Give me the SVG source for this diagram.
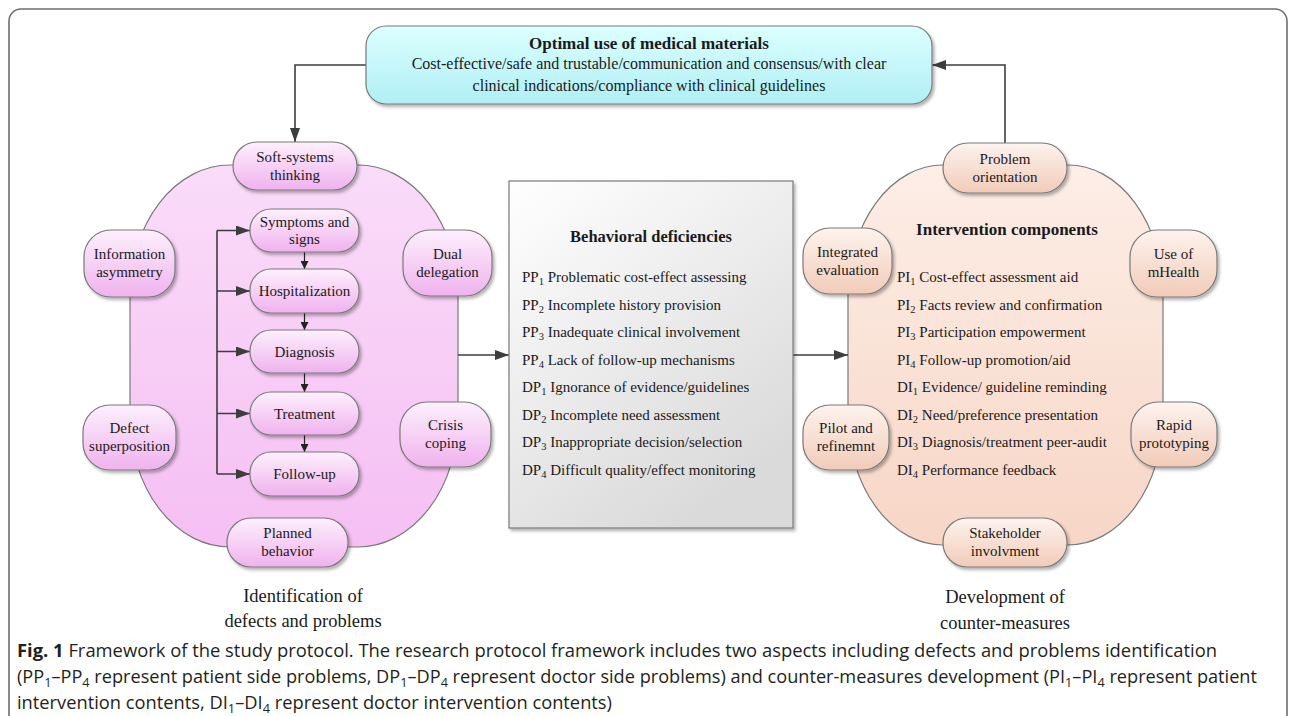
<svg xmlns="http://www.w3.org/2000/svg" width="1295" height="716" viewBox="0 0 1295 716">
<style>
.t{font-family:"Liberation Serif","Times New Roman",serif;fill:#1a1a1a}
.n{font-size:15px;text-anchor:middle}
.l{font-size:15px}
.h{font-weight:bold;text-anchor:middle}
.c{font-family:"Open Sans","Liberation Sans",sans-serif;font-size:18px;fill:#231f20}
.s{font-size:70%;baseline-shift:-28%}
.pk{fill:url(#gPk);stroke:#7a7a7a;stroke-width:1.2;filter:url(#sh)}
.pc{fill:url(#gPc);stroke:#7a7a7a;stroke-width:1.2;filter:url(#sh)}
.ln{fill:none;stroke:#3d3d3d;stroke-width:1.6}
.ls{fill:none;stroke:#222;stroke-width:1.2}
</style>
<defs>
<filter id="sh" x="-10%" y="-10%" width="130%" height="130%">
<feDropShadow dx="2" dy="2.5" stdDeviation="1.5" flood-color="#000" flood-opacity="0.3"/>
</filter>
<linearGradient id="gPk" x1="0" y1="0" x2="0" y2="1"><stop offset="0" stop-color="#fdf0fd"/><stop offset="1" stop-color="#f0b2ee"/></linearGradient>
<linearGradient id="gPc" x1="0" y1="0" x2="0" y2="1"><stop offset="0" stop-color="#fdf3ee"/><stop offset="1" stop-color="#f2cbb8"/></linearGradient>
<linearGradient id="gBlobPk" x1="0" y1="0" x2="0" y2="1"><stop offset="0" stop-color="#fadcf9"/><stop offset="1" stop-color="#f5bff3"/></linearGradient>
<linearGradient id="gBlobPc" x1="0" y1="0" x2="0" y2="1"><stop offset="0" stop-color="#fdeee7"/><stop offset="1" stop-color="#f7d6c6"/></linearGradient>
<linearGradient id="gCy" x1="0" y1="0" x2="0" y2="1"><stop offset="0" stop-color="#dcffff"/><stop offset="1" stop-color="#b0eff5"/></linearGradient>
<linearGradient id="gGr" x1="0" y1="0" x2="0.6" y2="1"><stop offset="0" stop-color="#ffffff"/><stop offset="1" stop-color="#dadada"/></linearGradient>
<marker id="aL" viewBox="0 0 14 10" refX="14" refY="5" markerWidth="14" markerHeight="10" markerUnits="userSpaceOnUse" orient="auto"><path d="M0,0 L14,5 L0,10 Z" fill="#3d3d3d"/></marker>
<marker id="aS" viewBox="0 0 8 8" refX="8" refY="4" markerWidth="8" markerHeight="8" markerUnits="userSpaceOnUse" orient="auto"><path d="M0,0 L8,4 L0,8 Z" fill="#222"/></marker>
</defs>

<rect x="9" y="9" width="1278" height="730" rx="12" fill="#fff" stroke="#6e6e6e" stroke-width="1.6"/>

<g id="blob-left"><rect x="130" y="165" width="328" height="382" rx="100" ry="130" fill="url(#gBlobPk)" stroke="#7a7a7a" stroke-width="1.2"/></g>
<g id="blob-right"><rect x="848" y="165" width="315" height="380" rx="95" ry="130" fill="url(#gBlobPc)" stroke="#7a7a7a" stroke-width="1.2"/></g>

<g id="connectors">
<path class="ln" d="M366,65 H295 V142" marker-end="url(#aL)"/>
<path class="ln" d="M1005,143 V65 H932" marker-end="url(#aL)"/>
<path class="ln" d="M458,355 H509" marker-end="url(#aL)"/>
<path class="ln" d="M793,355 H848" marker-end="url(#aL)"/>
<path class="ln" d="M217,230.5 V474"/>
<path class="ln" d="M217,230.5 H250" marker-end="url(#aL)"/>
<path class="ln" d="M217,291 H250" marker-end="url(#aL)"/>
<path class="ln" d="M217,351.5 H250" marker-end="url(#aL)"/>
<path class="ln" d="M217,413.5 H250" marker-end="url(#aL)"/>
<path class="ln" d="M217,474 H250" marker-end="url(#aL)"/>
<path class="ls" d="M304.5,252 V269" marker-end="url(#aS)"/>
<path class="ls" d="M304.5,313 V330" marker-end="url(#aS)"/>
<path class="ls" d="M304.5,373 V392" marker-end="url(#aS)"/>
<path class="ls" d="M304.5,435 V452" marker-end="url(#aS)"/>
</g>

<g id="goal">
<rect x="366" y="26" width="566" height="78" rx="20" fill="url(#gCy)" stroke="#7a7a7a" stroke-width="1.2" filter="url(#sh)"/>
<text class="t h" x="649" y="49" font-size="17">Optimal use of medical materials</text>
<text class="t" x="649" y="69" font-size="16" text-anchor="middle">Cost-effective/safe and trustable/communication and consensus/with clear</text>
<text class="t" x="649" y="91" font-size="16" text-anchor="middle">clinical indications/compliance with clinical guidelines</text>
</g>

<g id="soft-systems"><rect class="pk" x="233" y="142" width="124" height="48" rx="24"/><text class="t n" x="295" y="161.5">Soft-systems</text><text class="t n" x="295" y="179.5">thinking</text></g>
<g id="planned-behavior"><rect class="pk" x="227" y="518" width="121" height="49" rx="24"/><text class="t n" x="287.5" y="538">Planned</text><text class="t n" x="287.5" y="556">behavior</text></g>
<g id="information-asymmetry"><rect class="pk" x="84" y="230" width="91" height="67" rx="27"/><text class="t n" x="129.5" y="259">Information</text><text class="t n" x="129.5" y="277">asymmetry</text></g>
<g id="defect-superposition"><rect class="pk" x="83" y="405" width="93" height="65" rx="27"/><text class="t n" x="129.5" y="433">Defect</text><text class="t n" x="129.5" y="451">superposition</text></g>
<g id="dual-delegation"><rect class="pk" x="403" y="230" width="89" height="66" rx="27"/><text class="t n" x="447.5" y="258.5">Dual</text><text class="t n" x="447.5" y="276.5">delegation</text></g>
<g id="crisis-coping"><rect class="pk" x="400" y="402" width="91" height="65" rx="27"/><text class="t n" x="445.5" y="430">Crisis</text><text class="t n" x="445.5" y="448">coping</text></g>

<g id="symptoms"><rect class="pk" x="250" y="209" width="109" height="43" rx="21"/><text class="t n" x="304.5" y="226.5">Symptoms and</text><text class="t n" x="304.5" y="244">signs</text></g>
<g id="hospitalization"><rect class="pk" x="250" y="269" width="109" height="44" rx="21"/><text class="t n" x="304.5" y="296">Hospitalization</text></g>
<g id="diagnosis"><rect class="pk" x="250" y="330" width="109" height="43" rx="21"/><text class="t n" x="304.5" y="357">Diagnosis</text></g>
<g id="treatment"><rect class="pk" x="250" y="392" width="109" height="43" rx="21"/><text class="t n" x="304.5" y="419">Treatment</text></g>
<g id="follow-up"><rect class="pk" x="250" y="452" width="109" height="44" rx="21"/><text class="t n" x="304.5" y="479">Follow-up</text></g>

<g id="behavioral-deficiencies">
<rect x="509" y="181" width="284" height="347" fill="url(#gGr)" stroke="#7a7a7a" stroke-width="1.2" filter="url(#sh)"/>
<text class="t h" x="651" y="242" font-size="16.5">Behavioral deficiencies</text>
<text class="t l" x="522" y="282">PP<tspan class="s">1</tspan> Problematic cost-effect assessing</text>
<text class="t l" x="522" y="309.5">PP<tspan class="s">2</tspan> Incomplete  history provision</text>
<text class="t l" x="522" y="337">PP<tspan class="s">3</tspan> Inadequate clinical involvement</text>
<text class="t l" x="522" y="364.5">PP<tspan class="s">4</tspan> Lack of follow-up mechanisms</text>
<text class="t l" x="522" y="392">DP<tspan class="s">1</tspan> Ignorance of evidence/guidelines</text>
<text class="t l" x="522" y="419.5">DP<tspan class="s">2</tspan> Incomplete need assessment</text>
<text class="t l" x="522" y="447">DP<tspan class="s">3</tspan> Inappropriate decision/selection</text>
<text class="t l" x="522" y="474.5">DP<tspan class="s">4</tspan> Difficult quality/effect monitoring</text>
</g>

<g id="problem-orientation"><rect class="pc" x="943" y="143" width="124" height="50" rx="25"/><text class="t n" x="1005" y="163.5">Problem</text><text class="t n" x="1005" y="181.5">orientation</text></g>
<g id="stakeholder-involvment"><rect class="pc" x="943" y="518" width="124" height="49" rx="24"/><text class="t n" x="1005" y="538">Stakeholder</text><text class="t n" x="1005" y="556">involvment</text></g>
<g id="integrated-evaluation"><rect class="pc" x="803" y="228" width="89" height="66" rx="27"/><text class="t n" x="847.5" y="256.5">Integrated</text><text class="t n" x="847.5" y="274.5">evaluation</text></g>
<g id="use-of-mhealth"><rect class="pc" x="1130" y="230" width="87" height="67" rx="27"/><text class="t n" x="1173.5" y="259">Use of</text><text class="t n" x="1173.5" y="277">mHealth</text></g>
<g id="pilot-refinement"><rect class="pc" x="803" y="405" width="86" height="65" rx="27"/><text class="t n" x="846" y="433">Pilot and</text><text class="t n" x="846" y="451">refinemnt</text></g>
<g id="rapid-prototyping"><rect class="pc" x="1131" y="402" width="86" height="65" rx="27"/><text class="t n" x="1174" y="430">Rapid</text><text class="t n" x="1174" y="448">prototyping</text></g>

<g id="intervention-components">
<text class="t h" x="1007" y="235" font-size="17">Intervention components</text>
<text class="t l" x="897" y="282">PI<tspan class="s">1</tspan> Cost-effect assessment aid</text>
<text class="t l" x="897" y="309.5">PI<tspan class="s">2</tspan> Facts review and confirmation</text>
<text class="t l" x="897" y="337">PI<tspan class="s">3</tspan> Participation empowerment</text>
<text class="t l" x="897" y="364.5">PI<tspan class="s">4</tspan> Follow-up promotion/aid</text>
<text class="t l" x="897" y="392">DI<tspan class="s">1</tspan> Evidence/ guideline reminding</text>
<text class="t l" x="897" y="419.5">DI<tspan class="s">2</tspan> Need/preference presentation</text>
<text class="t l" x="897" y="447">DI<tspan class="s">3</tspan> Diagnosis/treatment peer-audit</text>
<text class="t l" x="897" y="474.5">DI<tspan class="s">4</tspan> Performance feedback</text>
</g>

<g id="labels">
<text class="t" x="303" y="602" font-size="18.5" text-anchor="middle">Identification of</text>
<text class="t" x="303" y="627" font-size="18.5" text-anchor="middle">defects and problems</text>
<text class="t" x="1005" y="603" font-size="18.5" text-anchor="middle">Development of</text>
<text class="t" x="1005" y="629" font-size="18.5" text-anchor="middle">counter-measures</text>
</g>

<g id="caption">
<text class="c" x="17" y="657" textLength="1200" lengthAdjust="spacingAndGlyphs"><tspan font-weight="bold">Fig. 1</tspan>  Framework of the study protocol. The research protocol framework includes two aspects including defects and problems identification</text>
<text class="c" x="17" y="683" textLength="1240" lengthAdjust="spacingAndGlyphs">(PP<tspan class="s">1</tspan>–PP<tspan class="s">4</tspan> represent patient side problems, DP<tspan class="s">1</tspan>–DP<tspan class="s">4</tspan> represent doctor side problems) and counter-measures development (PI<tspan class="s">1</tspan>–PI<tspan class="s">4</tspan> represent patient</text>
<text class="c" x="17" y="709" textLength="595" lengthAdjust="spacingAndGlyphs">intervention contents, DI<tspan class="s">1</tspan>–DI<tspan class="s">4</tspan> represent doctor intervention contents)</text>
</g>
</svg>
